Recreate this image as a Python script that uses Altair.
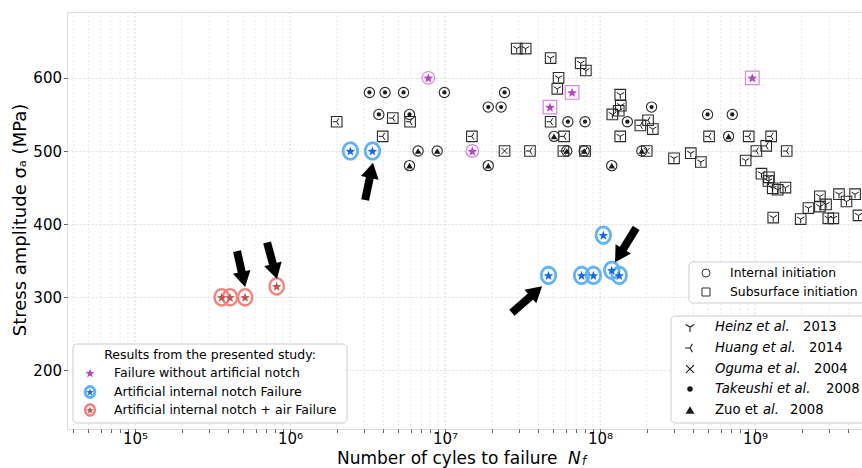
import math
import altair as alt
import pandas as pd

# ---------------- data ----------------
# Literature: internal initiation (circles)
TAKEUSHI_N = [3.25e6, 4.1e6, 5.4e6, 9.9e6, 2.42e7, 3.74e6, 5.9e6, 1.9e7, 2.3e7,
              6.2e7, 8.0e7, 1.5e8, 2.15e8, 4.94e8, 7.13e8]
TAKEUSHI_S = [580, 580, 580, 580, 580, 550, 550, 560, 560,
              540, 540, 540, 560, 550, 550]
ZUO_N = [5.9e6, 6.7e6, 8.9e6, 1.9e7, 5.05e7, 6.1e7, 7.9e7, 1.19e8, 1.86e8, 6.75e8]
ZUO_S = [480, 500, 500, 480, 520, 500, 500, 480, 500, 520]
# Literature: subsurface initiation (squares)
HUANG_N = [2.0e6, 3.96e6, 4.6e6, 5.95e6, 1.49e7, 3.53e7, 4.8e7, 5.86e7, 5.8e7, 8.0e7,
           1.82e8, 2.04e8, 5.05e8, 9.1e8, 1.27e9, 1.18e9, 1.02e9, 1.6e9]
HUANG_S = [540, 520, 545, 540, 520, 500, 540, 520, 500, 500,
           535, 542, 520, 520, 520, 507, 500, 500]
OGUMA_N = [2.42e7, 2.0e8]
OGUMA_S = [500, 500]
HEINZ_N = [2.9e7, 3.31e7, 4.8e7, 7.5e7, 8.1e7, 5.4e7, 5.3e7, 1.35e8, 1.36e8, 1.32e8,
           1.2e8, 1.35e8, 2.19e8, 3.0e8, 3.85e8, 4.47e8, 8.7e8, 1.1e9, 1.23e9, 1.22e9,
           1.3e9, 1.4e9, 1.57e9, 1.31e9, 1.97e9, 2.21e9, 2.62e9, 2.62e9, 2.87e9, 2.97e9,
           3.2e9, 3.48e9, 3.89e9, 4.42e9, 4.65e9]
HEINZ_S = [640, 640, 627, 620, 610, 600, 585, 577, 562, 555,
           550, 520, 530, 490, 497, 485, 487, 469, 464, 459,
           449, 447, 450, 409, 407, 422, 438, 424, 427, 408,
           408, 441, 431, 441, 412]
# Present study
MAG_INT_N = [7.8e6, 1.5e7]
MAG_INT_S = [600, 500]
MAG_SUB_N = [4.75e7, 6.6e7, 9.6e8]
MAG_SUB_S = [560, 580, 600]
BLUE_N = [2.45e6, 3.4e6, 4.65e7, 7.6e7, 9.06e7, 1.05e8, 1.19e8, 1.33e8]
BLUE_S = [500, 500, 330, 330, 330, 385, 337, 330]
RED_N = [3.62e5, 4.1e5, 5.13e5, 8.2e5]
RED_S = [300, 300, 300, 315]
# Annotation arrows (tail -> tip, data coordinates)
ARROW_TAIL_N = [3.05e6, 4.55e5, 7.11e5, 2.70e7, 1.71e8]
ARROW_TAIL_S = [433, 363, 375, 279, 395]
ARROW_TIP_N = [3.43e6, 5.13e5, 8.24e5, 4.23e7, 1.25e8]
ARROW_TIP_S = [484, 314, 325, 315, 348]

# Legend texts
STUDY_TITLE = "Results from the presented study:"
STUDY_LABELS = ["Failure without artificial notch", "Artificial internal notch Failure",
                "Artificial internal notch + air Failure"]
INIT_LABELS = ["Internal initiation", "Subsurface initiation"]
AUTHOR_ITALIC = ["Heinz et al.", "Huang et al.", "Oguma et al.", "Takeushi et al.", "al."]
AUTHOR_UPRIGHT_PREFIX = ["", "", "", "", "Zuo et "]
AUTHOR_YEARS = ["2013", "2014", "2004", "2008", "2008"]
Y_TICKS = [200, 300, 400, 500, 600]
X_MAJOR = [1e5, 1e6, 1e7, 1e8, 1e9]

# ---------------- layout ----------------
FONT = "DejaVu Sans"
PAD_L, PAD_T, PAD_B = 67, 12, 39
W, H = 862 - PAD_L, 468 - PAD_T - PAD_B
X_DOMAIN = [10 ** 4.561, 10 ** 9.690]
Y_DOMAIN = [120, 690]
BLACK = "#1a1a1a"
MAG = "#b646c6"
MAG_RING = "#d785de"
BLUE = "#1668e8"
BLUE_RING = "#62b3f0"
RED = "#c45555"
RED_RING = "#f2837a"

x_minor = [m * 10 ** e for e in range(4, 10) for m in range(2, 10)
           if X_DOMAIN[0] <= m * 10 ** e <= X_DOMAIN[1]]
all_x_ticks = sorted(X_MAJOR + x_minor)

label_expr = ("abs(log(datum.value)/LN10 - round(log(datum.value)/LN10)) < 0.001 ? "
              "'10' + ['⁰','¹','²','³','⁴','⁵','⁶','⁷','⁸','⁹'][round(log(datum.value)/LN10)] : ''")

xs = alt.Scale(type="log", domain=X_DOMAIN, nice=False)
ys = alt.Scale(domain=Y_DOMAIN, nice=False, zero=False)
xaxis = alt.Axis(values=all_x_ticks, labelExpr=label_expr, grid=False, domain=False,
                 tickSize=3.5, tickColor="#333333", tickWidth=0.8, labelFontSize=15,
                 labelFont=FONT, labelColor="black", labelPadding=-1, labelOverlap=False,
                 labelFlush=False, title=None)
yaxis = alt.Axis(values=Y_TICKS, grid=True, gridColor="#d4d4d4", gridDash=[2, 2],
                 gridWidth=0.8, domain=False, tickSize=3.5, tickColor="#333333",
                 tickWidth=0.8, labelFontSize=15, labelFont=FONT, labelColor="black",
                 labelPadding=2, title=None)
X = alt.X("N:Q", scale=xs, axis=xaxis)
Y = alt.Y("S:Q", scale=ys, axis=yaxis)


def frame(n, s):
    return pd.DataFrame({"N": n, "S": s})


def star_path(inner=0.42):
    p = []
    for i in range(10):
        r = 1.0 if i % 2 == 0 else inner
        a = math.radians(36 * i)
        p.append((r * math.sin(a), -r * math.cos(a) + 0.095))
    return "M" + "L".join(f"{x:.3f},{y:.3f}" for x, y in p) + "Z"


def ellipse_path(rx, ry, n=40):
    p = [(rx * math.cos(2 * math.pi * k / n), ry * math.sin(2 * math.pi * k / n)) for k in range(n)]
    return "M" + "L".join(f"{x:.3f},{y:.3f}" for x, y in p) + "Z"


STAR = star_path()
RING = ellipse_path(0.88, 1.0)
HEINZ_PATH = "M0,0L0,1M0,0L-0.866,-0.5M0,0L0.866,-0.5"
HUANG_PATH = "M0,0L-1,0M0,0L0.5,-0.866M0,0L0.5,0.866"
OGUMA_PATH = "M-0.75,-0.75L0.75,0.75M-0.75,0.75L0.75,-0.75"


def pts(df, shape, size, color, filled, sw=1.0):
    return alt.Chart(df).mark_point(shape=shape, size=size, filled=filled, color=color,
                                    strokeWidth=sw, opacity=1).encode(x=X, y=Y)


ONE = pd.DataFrame({"k": [0]})


def at(x, y):
    return dict(x=alt.value(x - PAD_L), y=alt.value(y - PAD_T))


def txt(s, x, y, size, style="normal", align="left", baseline="middle", angle=0):
    kw = dict(text=s, fontSize=size, fontStyle=style, align=align, baseline=baseline,
              font=FONT, color="black")
    if angle:
        kw["angle"] = angle
    return alt.Chart(ONE).mark_text(**kw).encode(**at(x, y))


def sym(shape, x, y, size, color=BLACK, filled=True, sw=1.0):
    return alt.Chart(ONE).mark_point(shape=shape, size=size, filled=filled, color=color,
                                     strokeWidth=sw, opacity=1).encode(**at(x, y))


def box(x1, y1, x2, y2):
    return alt.Chart(ONE).mark_rect(cornerRadius=4, fill="white", fillOpacity=0.85,
                                    stroke="#cccccc", strokeWidth=1).encode(
        x=alt.value(x1 - PAD_L), x2=alt.value(x2 - PAD_L),
        y=alt.value(y1 - PAD_T), y2=alt.value(y2 - PAD_T))


layers = []
# grid lines along x
layers.append(alt.Chart(pd.DataFrame({"N": x_minor})).mark_rule(
    color="#e2e2e2", strokeDash=[2, 2], strokeWidth=0.7).encode(x=X))
layers.append(alt.Chart(pd.DataFrame({"N": X_MAJOR})).mark_rule(
    color="#d0d0d0", strokeDash=[2, 2], strokeWidth=0.8).encode(x=X))

# literature data
tk, zu = frame(TAKEUSHI_N, TAKEUSHI_S), frame(ZUO_N, ZUO_S)
hu, og, he = frame(HUANG_N, HUANG_S), frame(OGUMA_N, OGUMA_S), frame(HEINZ_N, HEINZ_S)
for df in (he, hu, og):
    layers.append(pts(df, "square", 112, "#2a2a2a", False, 1.1))
layers.append(pts(he, HEINZ_PATH, 72, BLACK, False, 1.0))
layers.append(pts(hu, HUANG_PATH, 64, BLACK, False, 1.0))
layers.append(pts(og, OGUMA_PATH, 64, BLACK, False, 1.0))
for df in (tk, zu):
    layers.append(pts(df, "circle", 105, "#2a2a2a", False, 1.1))
layers.append(pts(tk, "circle", 18, BLACK, True))
layers.append(pts(zu, "triangle-up", 42, BLACK, True))

# present study
mi, ms = frame(MAG_INT_N, MAG_INT_S), frame(MAG_SUB_N, MAG_SUB_S)
bl, rd = frame(BLUE_N, BLUE_S), frame(RED_N, RED_S)
layers.append(pts(mi, "circle", 160, MAG_RING, False, 1.2))
layers.append(pts(ms, "square", 185, MAG_RING, False, 1.2))
layers.append(pts(pd.concat([mi, ms]), STAR, 105, MAG, True))
layers.append(pts(bl, RING, 270, BLUE_RING, False, 2.8))
layers.append(pts(bl, STAR, 100, BLUE, True))
layers.append(pts(rd, RING, 260, RED_RING, False, 2.4))
layers.append(pts(rd, STAR, 100, RED, True))

# arrows
LX0, LX1 = math.log10(X_DOMAIN[0]), math.log10(X_DOMAIN[1])
KX = W / (LX1 - LX0)
KY = H / (Y_DOMAIN[1] - Y_DOMAIN[0])
HEAD_W = 18
HEAD_H = HEAD_W * math.sqrt(3) / 2
arrow_rows = []
for tn, ts, hn, hs in zip(ARROW_TAIL_N, ARROW_TAIL_S, ARROW_TIP_N, ARROW_TIP_S):
    x0, y0 = math.log10(tn) * KX, -ts * KY
    x1, y1 = math.log10(hn) * KX, -hs * KY
    dx, dy = x1 - x0, y1 - y0
    ln = math.hypot(dx, dy)
    ux, uy = dx / ln, dy / ln
    cx, cy = x1 - ux * HEAD_H / 2, y1 - uy * HEAD_H / 2
    arrow_rows.append(dict(N=tn, S=ts, N2=10 ** (cx / KX), S2=-cy / KY,
                           ang=math.degrees(math.atan2(ux, -uy)) % 360))
arr = pd.DataFrame(arrow_rows)
layers.append(alt.Chart(arr).mark_rule(color="black", strokeWidth=8, strokeCap="butt").encode(
    x=X, y=Y, x2=alt.X2("N2:Q"), y2=alt.Y2("S2:Q")))
layers.append(alt.Chart(arr).mark_point(shape="triangle-up", filled=True, color="black",
                                        size=HEAD_W ** 2, opacity=1).encode(
    x=alt.X("N2:Q", scale=xs, axis=xaxis), y=alt.Y("S2:Q", scale=ys, axis=yaxis),
    angle=alt.Angle("ang:Q", scale=None)))

# legend: present study
layers.append(box(73, 344, 347, 423))
layers.append(txt(STUDY_TITLE, 210, 355, 12.5, align="center"))
rows_y = [373, 392, 410]
layers.append(sym(STAR, 90, rows_y[0], 90, MAG))
layers.append(sym(RING, 90, rows_y[1], 120, BLUE_RING, False, 3))
layers.append(sym(STAR, 90, rows_y[1], 60, BLUE))
layers.append(sym(RING, 90, rows_y[2], 120, RED_RING, False, 2.5))
layers.append(sym(STAR, 90, rows_y[2], 60, RED))
for lab, yy in zip(STUDY_LABELS, rows_y):
    layers.append(txt(lab, 114, yy, 12.5))

# legend: initiation
layers.append(box(689, 262, 880, 303))
layers.append(sym("circle", 706, 273, 64, "#333333", False, 1))
layers.append(sym("square", 706, 292, 64, "#333333", False, 1))
for lab, yy in zip(INIT_LABELS, [273, 292]):
    layers.append(txt(lab, 730, yy, 12.4))

# legend: literature
layers.append(box(671, 316, 880, 423))
auth_y = [327, 348, 369, 389, 410]
layers.append(sym(HEINZ_PATH, 690, auth_y[0], 100, BLACK, False, 1.1))
layers.append(sym(HUANG_PATH, 690, auth_y[1], 100, BLACK, False, 1.1))
layers.append(sym(OGUMA_PATH, 690, auth_y[2], 110, BLACK, False, 1.1))
layers.append(sym("circle", 690, auth_y[3], 30, BLACK, True))
layers.append(sym("triangle-up", 690, auth_y[4], 80, BLACK, True))
YEAR_X = [803, 809, 814, 826, 790]
for pre, it, yr, yy, yx in zip(AUTHOR_UPRIGHT_PREFIX, AUTHOR_ITALIC, AUTHOR_YEARS, auth_y, YEAR_X):
    if pre:
        layers.append(txt(pre, 715, yy, 13.2))
        layers.append(txt(it, 715 + 48, yy, 13.2, style="italic"))
    else:
        layers.append(txt(it, 715, yy, 13.2, style="italic"))
    layers.append(txt(yr, yx, yy, 13.2))

# axis titles
layers.append(txt("Number of cyles to failure", 337, 464, 17, baseline="alphabetic"))
layers.append(txt("N", 568, 464, 17, style="italic", baseline="alphabetic"))
layers.append(txt("f", 582, 465, 11.5, style="italic", baseline="alphabetic"))
layers.append(txt("Stress amplitude σₐ (MPa)", 21, 220, 18, align="center", angle=270))

chart = alt.layer(*layers).properties(
    width=W, height=H,
    padding={"left": PAD_L, "top": PAD_T, "right": 0, "bottom": PAD_B},
    autosize=alt.AutoSizeParams(type="none"),
).configure_view(stroke="#555555", strokeWidth=1.2).configure(font=FONT)

chart.save("out.html", embed_options={"renderer": "svg", "actions": False})
